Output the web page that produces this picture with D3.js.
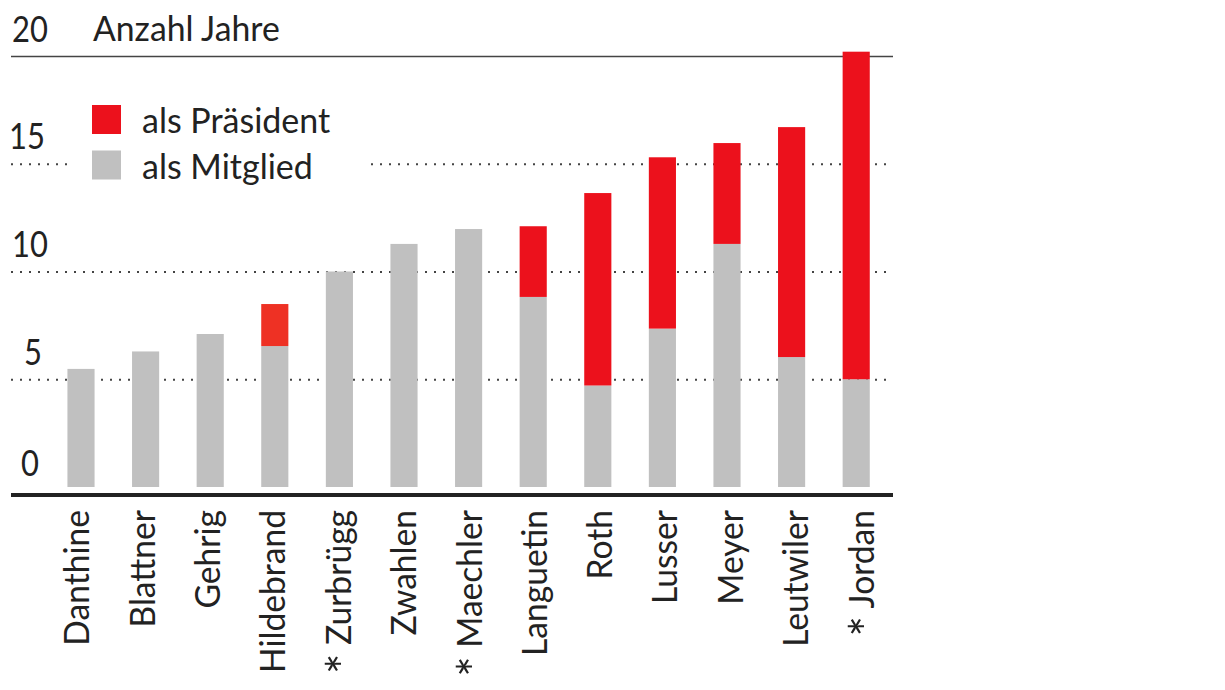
<!DOCTYPE html>
<html>
<head>
<meta charset="utf-8">
<script src="https://cdn.jsdelivr.net/npm/d3@7"></script>
<style>
  html, body { margin: 0; padding: 0; background: #fff; }
  text { font-family: Lato, "Open Sans", sans-serif; fill: #222; }
</style>
</head>
<body>
<svg id="chart" width="1225" height="690"></svg>
<script>
"use strict";

// values, in years
var names = ["Danthine", "Blattner", "Gehrig", "Hildebrand", "* Zurbrügg", "Zwahlen", "* Maechler",
             "Languetin", "Roth", "Lusser", "Meyer", "Leutwiler", "* Jordan"];
var member = [5.48, 6.29, 7.1, 6.54, 10.0, 11.28, 11.97, 8.82, 4.71, 7.35, 11.28, 6.03, 5.0];
var president = [0, 0, 0, 1.95, 0, 0, 0, 3.28, 8.93, 7.95, 4.68, 10.67, 15.2];
var yTicks = [0, 5, 10, 15, 20];
var legendLabels = ["als Präsident", "als Mitglied"];
var unitLabel = "Anzahl Jahre";

var RED = "#ec111c", ORANGE_RED = "#ee3124", GREY = "#c0c0c0";
var SQUEEZE = 0.86; // digits are condensed in the original

var svg = d3.select("#chart");

var x = d3.scaleBand().domain(names).range([48.7, 888.5]).paddingInner(0.58).paddingOuter(0.29);
// the names are spread a bit wider than the bars
var xLabel = d3.scalePoint().domain(names).range([75, 859]);
var y = d3.scaleLinear().domain([0, 20]).range([487, 56]);

// grid + y labels
var yAxis = svg.append("g").attr("transform", "translate(11,0)")
    .call(d3.axisLeft(y).tickValues(yTicks).tickSize(-882).tickFormat(d3.format("d")));
yAxis.select(".domain").remove();
yAxis.selectAll(".tick line")
    .attr("stroke", "#444").attr("stroke-width", 2).attr("stroke-dasharray", "2 7")
    .filter(function(d) { return d === 0; }).remove();
yAxis.selectAll(".tick line")
    .filter(function(d) { return d === 20; })
    .attr("stroke-width", 1.5).attr("stroke-dasharray", null);
yAxis.selectAll(".tick text")
    .attr("x", 0).attr("dy", null).attr("y", function(d) { return d === 0 ? -12 : -15; })
    .attr("text-anchor", "middle")
    .attr("transform", function(d) {
        var nudge = d === 15 ? -3 : (d === 5 ? 3 : 0);
        return "translate(" + (19 + nudge) + ",0) scale(" + SQUEEZE + ",1)";
    })
    .style("font-size", "36px").style("font-family", null);

// gap in the 15 line behind the legend
svg.append("rect").attr("x", 70).attr("y", 100).attr("width", 296).attr("height", 90).attr("fill", "#fff");

svg.append("text").attr("transform", "translate(93,41) scale(0.965,1)")
    .style("font-size", "35px").text(unitLabel);

// bars
var barG = svg.selectAll(".bar").data(names).enter().append("g").attr("class", "bar");
barG.append("rect")
    .attr("x", function(d) { return x(d); })
    .attr("width", x.bandwidth())
    .attr("y", function(d, i) { return y(member[i]); })
    .attr("height", function(d, i) { return y(0) - y(member[i]); })
    .attr("fill", GREY);
barG.filter(function(d, i) { return president[i] > 0; }).append("rect")
    .attr("x", function(d) { return x(d); })
    .attr("width", x.bandwidth())
    .attr("y", function(d) { var i = names.indexOf(d); return y(member[i] + president[i]); })
    .attr("height", function(d) { var i = names.indexOf(d); return y(0) - y(president[i]); })
    .attr("fill", function(d) { return d === "Hildebrand" ? ORANGE_RED : RED; });

// baseline + names
var xAxis = svg.append("g").attr("transform", "translate(0," + (y(0) + 8) + ")")
    .call(d3.axisBottom(xLabel).tickSize(0));
xAxis.select(".domain").remove();
xAxis.selectAll(".tick text")
    .attr("x", 0).attr("y", 0).attr("dy", null)
    .attr("text-anchor", "end").attr("dominant-baseline", "central")
    .attr("transform", "translate(0,15) rotate(-90) scale(0.96,1)")
    .style("font-size", "35px").style("font-family", null)
    .each(function(d) {
        // the asterisk is much bigger and lower in the original
        if (d.charAt(0) !== "*") return;
        var t = d3.select(this).text(null);
        t.append("tspan").style("font-size", "50px").attr("dy", 7).text("*");
        t.append("tspan").attr("dy", -7).text(" " + d.slice(2));
    });

svg.append("line").attr("x1", 11).attr("x2", 893)
    .attr("y1", y(0) + 8).attr("y2", y(0) + 8)
    .attr("stroke", "#222").attr("stroke-width", 4);

// legend
var legend = svg.selectAll(".legend").data(legendLabels).enter().append("g")
    .attr("class", "legend")
    .attr("transform", function(d, i) { return "translate(92," + (105 + i * 45.5) + ")"; });
legend.append("rect").attr("width", 29).attr("height", 29)
    .attr("fill", function(d, i) { return i === 0 ? RED : GREY; });
legend.append("text").attr("transform", "translate(50,28)")
    .style("font-size", "34px").text(function(d) { return d; });
</script>
</body>
</html>
